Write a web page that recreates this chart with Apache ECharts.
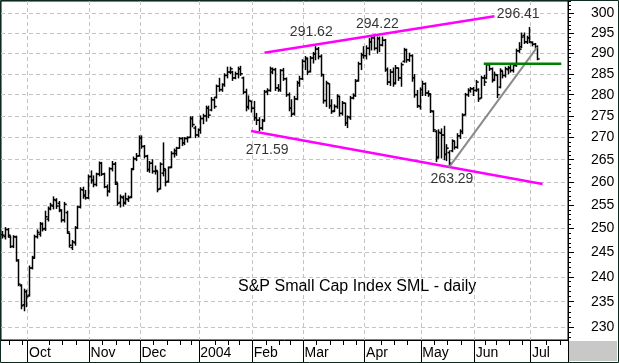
<!DOCTYPE html>
<html><head><meta charset="utf-8">
<script src="https://cdn.jsdelivr.net/npm/echarts@6/dist/echarts.min.js"></script>
<style>html,body{margin:0;padding:0;background:#fff}#c{width:619px;height:363px}</style>
</head><body><div id="c"></div>
<script>
// trading days per month (categories)
const monthDays = [
  ['2003-09', [17,18,19,22,23,24,25,26,29,30]],
  ['2003-10', [1,2,3,6,7,8,9,10,13,14,15,16,17,20,21,22,23,24,27,28,29,30,31]],
  ['2003-11', [3,4,5,6,7,10,11,12,13,14,17,18,19,20,21,24,25,26,28]],
  ['2003-12', [1,2,3,4,5,8,9,10,11,12,15,16,17,18,19,22,23,24,26,29,30,31]],
  ['2004-01', [2,5,6,7,8,9,12,13,14,15,16,20,21,22,23,26,27,28,29,30]],
  ['2004-02', [2,3,4,5,6,9,10,11,12,13,17,18,19,20,23,24,25,26,27]],
  ['2004-03', [1,2,3,4,5,8,9,10,11,12,15,16,17,18,19,22,23,24,25,26,29,30,31]],
  ['2004-04', [1,2,5,6,7,8,12,13,14,15,16,19,20,21,22,23,26,27,28,29,30]],
  ['2004-05', [3,4,5,6,7,10,11,12,13,14,17,18,19,20,21,24,25,26,27,28]],
  ['2004-06', [1,2,3,4,7,8,9,10,14,15,16,17,18,21,22,23,24,25,28,29,30]],
  ['2004-07', [1,2,6,7,8,9,12,13,14,15,16,19,20,21]]
];
const dates = [];
monthDays.forEach(([ym, ds]) => ds.forEach(d => dates.push(ym + '-' + String(d).padStart(2, '0'))));

const open = [248.7,248.3,249.8,248.2,246.3,248.2,243.3,238.2,234.4,237.0,
236.3,241.8,244.0,248.3,248.8,251.0,250.0,252.0,254.2,254.8,256.0,255.4,253.8,251.8,253.4,249.0,246.0,247.0,250.2,254.6,258.3,257.2,256.6,
261.3,260.4,259.5,261.8,264.2,261.8,259.0,258.0,263.0,264.0,259.6,255.6,256.6,255.6,256.2,256.8,263.0,265.2,265.9,
269.9,268.0,265.8,262.8,264.2,262.4,262.4,258.6,262.0,262.6,260.2,263.4,266.4,266.4,267.6,269.8,268.8,269.8,270.1,274.4,272.2,270.6,
271.8,274.4,275.0,276.8,276.4,278.8,279.4,282.0,281.2,282.4,284.6,285.4,285.4,284.0,285.0,286.2,284.0,280.6,277.2,278.4,
276.8,274.6,274.0,272.2,274.0,280.8,281.0,285.4,286.0,281.6,281.2,285.8,283.8,280.0,276.8,275.6,279.0,282.8,283.8,
288.0,288.6,285.6,288.8,289.8,291.0,289.2,284.8,278.6,282.6,277.4,276.2,277.2,279.6,275.6,278.0,273.4,274.6,279.2,279.8,283.4,287.4,289.6,
289.4,291.2,292.8,293.8,291.2,293.6,292.0,293.2,286.0,283.0,285.4,282.8,286.4,284.0,288.0,290.8,288.4,289.4,284.0,280.0,277.2,
281.2,282.6,280.4,280.0,276.0,271.4,265.6,271.0,270.6,266.2,266.6,267.0,269.2,267.8,270.4,271.4,275.3,280.0,281.0,281.4,
281.0,281.2,279.2,284.0,284.0,287.2,286.2,283.6,284.6,281.8,285.6,284.6,286.0,286.4,285.8,287.0,290.6,291.6,294.4,292.8,293.8,
292.6,292.2,291.6];
const high = [249.4,250.2,250.0,248.4,248.5,248.4,243.5,238.4,237.5,237.3,
242.2,244.2,248.6,249.7,251.3,251.2,253.7,254.6,255.4,256.8,256.4,255.8,254.0,255.6,253.7,249.0,247.5,250.4,254.8,258.8,258.9,258.2,261.6,
262.5,261.4,262.0,264.5,264.4,262.0,259.4,263.2,264.6,264.4,259.8,257.2,257.0,257.6,257.0,263.0,265.6,266.4,270.4,
270.4,268.2,266.0,264.6,265.0,263.6,262.4,264.3,268.8,262.8,263.4,266.8,267.4,267.8,270.0,270.0,270.0,270.2,274.8,274.8,272.6,272.0,
275.0,275.4,277.3,277.3,279.3,279.3,282.3,283.9,282.6,285.0,286.6,286.6,285.6,285.4,286.6,286.8,284.2,281.3,279.7,278.5,
278.4,275.6,274.6,274.2,281.0,281.4,286.6,286.4,286.3,282.4,286.0,286.3,284.0,280.4,278.8,279.6,283.2,284.4,288.4,
289.2,288.8,289.2,290.2,291.6,291.4,289.6,284.8,283.2,282.6,278.8,277.6,280.0,279.6,278.4,278.0,275.0,279.6,280.2,283.6,287.8,290.0,291.6,
291.8,293.6,294.2,294.1,294.0,294.0,294.0,293.4,286.4,286.0,286.4,287.0,286.4,287.6,291.2,291.0,290.0,289.6,284.8,281.0,281.6,
283.2,282.8,280.9,280.2,276.2,271.6,271.8,272.0,272.6,268.4,267.0,269.5,269.2,270.9,271.8,275.5,280.3,281.4,281.7,281.7,
283.4,281.4,284.4,284.6,287.5,287.2,286.4,285.4,284.8,286.2,285.6,286.6,286.8,287.0,287.2,291.0,292.6,295.0,295.0,294.2,296.4,
292.8,292.4,291.8];
const low = [248.0,247.8,248.2,246.0,246.0,243.2,238.2,233.6,233.2,234.0,
236.1,241.6,243.8,248.0,248.4,249.5,249.6,251.6,254.0,254.2,254.3,253.6,251.4,251.4,249.0,246.1,245.6,246.5,250.0,254.4,256.5,256.3,256.4,
259.8,259.0,259.2,261.4,261.5,258.8,257.0,257.8,262.5,259.5,255.0,254.6,254.8,255.2,255.8,256.6,262.8,264.8,265.8,
267.6,265.4,262.4,262.2,262.0,261.8,257.9,258.5,261.4,259.2,260.0,263.2,265.6,266.0,267.6,268.2,268.4,269.0,270.0,272.5,270.0,270.2,
271.0,273.2,273.8,274.6,276.2,276.8,279.2,280.8,280.8,282.0,284.0,285.0,283.4,283.8,284.0,284.6,280.2,276.2,276.6,275.9,
274.0,273.0,271.6,271.8,273.8,280.0,280.8,285.0,281.0,280.8,280.8,283.4,279.6,276.2,274.9,275.2,278.8,282.0,283.6,
286.0,284.8,285.4,287.6,288.4,288.6,284.4,278.0,277.2,276.8,275.6,276.0,276.8,275.0,275.2,272.8,272.3,274.2,279.0,279.6,283.2,286.0,288.8,
288.6,289.6,290.8,290.8,290.0,290.4,291.8,285.6,282.4,282.2,282.0,282.6,283.4,282.0,287.8,287.8,288.0,283.2,279.4,277.0,276.6,
279.8,279.8,279.6,275.8,271.4,264.6,265.4,265.4,265.0,264.8,263.3,266.8,267.4,267.6,269.8,270.9,275.2,279.6,280.6,279.8,
280.8,278.4,279.2,282.2,283.8,285.8,283.0,283.4,279.3,281.6,284.0,284.2,285.0,285.4,285.4,286.8,290.2,291.4,292.4,292.4,292.6,
291.8,291.2,288.4];
const close = [248.6,249.8,248.6,246.2,248.3,243.4,238.5,234.2,237.0,236.0,
241.8,243.8,248.3,249.2,251.0,249.9,252.5,254.3,255.0,256.2,254.8,254.0,251.8,255.2,249.3,246.5,247.2,250.2,254.6,258.4,257.0,256.6,261.2,
260.4,259.5,261.8,264.2,261.8,259.0,258.0,263.0,264.0,260.0,255.4,256.8,255.4,256.4,256.6,262.8,265.2,265.8,269.8,
268.0,265.8,262.8,264.2,262.4,262.6,258.4,264.0,263.0,260.0,263.2,266.4,267.0,267.6,269.8,268.8,269.8,270.0,274.4,273.0,270.6,271.8,
274.4,275.0,276.8,275.2,278.8,277.2,282.0,281.2,282.4,284.6,285.4,286.2,284.0,285.0,286.2,285.0,280.6,277.0,278.6,276.8,
274.6,274.0,272.2,273.8,280.6,281.0,286.2,286.0,281.6,281.2,285.8,283.8,280.0,276.8,275.4,279.0,282.8,283.8,288.0,
288.8,285.4,288.8,289.8,291.0,289.2,284.8,278.6,282.8,277.4,276.0,277.2,279.6,275.6,278.0,273.4,274.8,279.2,279.8,283.2,287.4,289.6,289.4,
291.2,292.8,293.8,291.2,293.6,292.0,293.2,286.0,283.0,285.4,282.6,286.4,284.0,287.2,290.8,288.4,289.4,284.0,280.0,277.4,281.2,
282.6,280.4,280.2,276.2,271.8,265.4,271.2,270.6,266.2,267.6,264.2,269.2,267.8,270.4,271.4,275.2,280.0,281.0,281.4,281.0,
283.0,279.0,284.0,283.0,287.2,286.2,283.4,284.8,280.0,285.8,284.6,286.2,286.4,285.8,287.0,290.6,291.0,294.0,292.8,293.8,292.8,
292.2,291.6,288.6];

const yTickValues = [230,235,240,245,250,255,260,265,270,275,280,285,290,295,300];
const yMinorTickValues = [228,229,230,231,232,233,234,235,236,237,238,239,240,241,242,243,244,245,246,247,248,249,250,
251,252,253,254,255,256,257,258,259,260,261,262,263,264,265,266,267,268,269,270,271,272,273,274,275,276,277,278,279,280,
281,282,283,284,285,286,287,288,289,290,291,292,293,294,295,296,297,298,299,300,301,302,303];
const monthNames = {'01':'2004','02':'Feb','03':'Mar','04':'Apr','05':'May','06':'Jun','07':'Jul','09':'Sep','10':'Oct','11':'Nov','12':'Dec'};

// trend lines: [category index, value]
const upperTrend = [[98, 290.1], [184, 299.2]];
const lowerTrend = [[93, 271.5], [202, 259.6]];
const riseTrend = [[167, 263.3], [200, 291.5]];
const breakLevel = [[180, 287.4], [209, 287.4]];
// annotated extremes: [category index, value]
const extremes = [[117, 291.62], [138, 294.22], [197, 296.41], [96, 271.59], [167, 263.29]];
const extremeOffsets = [[-4, -14], [6, -12], [-11, -13], [8, 19], [3, 12]];

const FONT = "Arial, 'Liberation Sans', sans-serif";
const ym = i => dates[i].slice(0, 7);
const isMonthStart = i => i > 0 && ym(i) !== ym(i - 1);
const dow = s => new Date(s + 'T00:00:00Z').getUTCDay();
const isWeekStart = i => i > 0 && dow(dates[i]) < dow(dates[i - 1]);
function lastMonthStart(i) { for (let j = i; j > 0; j--) if (isMonthStart(j)) return j; return -100; }
const weeklyTick = i => isMonthStart(i) || (isWeekStart(i) && i - lastMonthStart(i) >= 4);

const ohlc = open.map((o, i) => [i, o, high[i], low[i], close[i]]);

function renderItem(params, api) {
  const i = api.value(0);
  const pO = api.coord([i, api.value(1)]);
  const pH = api.coord([i, api.value(2)]);
  const pL = api.coord([i, api.value(3)]);
  const pC = api.coord([i, api.value(4)]);
  const x = Math.round(pH[0]) + 0.5;
  const st = {stroke: '#000', lineWidth: 1.5};
  return {type: 'group', children: [
    {type: 'line', shape: {x1: x, y1: pH[1] - 0.5, x2: x, y2: pL[1] + 0.5}, style: st},
    {type: 'line', shape: {x1: x - 2, y1: pO[1], x2: x, y2: pO[1]}, style: st},
    {type: 'line', shape: {x1: x, y1: pC[1], x2: x + 2.2, y2: pC[1]}, style: st}
  ]};
}

const trend = (data, color, width) => ({
  type: 'line', data, symbol: 'none', silent: true, z: 5, animation: false,
  lineStyle: {color, width}
});

const chart = echarts.init(document.getElementById('c'), null, {renderer: 'canvas'});
chart.setOption({
  animation: false,
  backgroundColor: '#fff',
  title: {text: 'S&P Small Cap Index SML - daily', left: 238, top: 279, padding: 0,
    textStyle: {fontSize: 16, fontWeight: 'normal', color: '#000', fontFamily: FONT}},
  grid: {left: 1, right: 51, top: 1, bottom: 23, show: true, borderColor: '#000', borderWidth: 1},
  xAxis: [{
    type: 'category', data: dates, boundaryGap: true,
    axisLine: {show: true, lineStyle: {color: '#000'}},
    axisTick: {show: true, length: 5, interval: weeklyTick, lineStyle: {color: '#000'}},
    axisLabel: {interval: isMonthStart, formatter: v => monthNames[v.slice(5, 7)], align: 'left',
      margin: 6, fontSize: 14, color: '#000', fontFamily: FONT},
    splitLine: {show: true, interval: isMonthStart, lineStyle: {color: '#c4c4c4', type: [4, 3]}}
  }, {
    type: 'category', data: dates, boundaryGap: true, position: 'bottom',
    axisLine: {show: false},
    axisTick: {show: true, length: 22, interval: isMonthStart, lineStyle: {color: '#000'}},
    axisLabel: {show: false}, splitLine: {show: false}
  }],
  yAxis: [{
    type: 'log', logBase: 10, min: 227.5, max: 303.1, position: 'right',
    axisLine: {show: true, lineStyle: {color: '#000'}},
    axisTick: {show: true, length: 6, customValues: yTickValues, lineStyle: {color: '#000'}},
    axisLabel: {customValues: yTickValues, margin: 23, fontSize: 14, color: '#000', fontFamily: FONT},
    splitLine: {show: true, lineStyle: {color: '#c4c4c4', type: [4, 3]}}
  }, {
    type: 'log', logBase: 10, min: 227.5, max: 303.1, position: 'right',
    axisLine: {show: false},
    axisTick: {show: true, length: 3, customValues: yMinorTickValues, lineStyle: {color: '#000'}},
    axisLabel: {show: false}, splitLine: {show: false}
  }],
  graphic: [
    {type: 'rect', shape: {x: 569, y: 341, width: 48, height: 20}, style: {fill: '#c8c8c8'}, z: 10},
    {type: 'rect', shape: {x: 0.5, y: 0.5, width: 618, height: 362}, style: {fill: null, stroke: '#0d2a1f', lineWidth: 1}, z: 10}
  ],
  series: [
    {type: 'custom', renderItem, data: ohlc, encode: {x: 0, y: [1, 2, 3, 4]}, z: 3, animation: false},
    trend(upperTrend, '#ff00ff', 2.5),
    trend(lowerTrend, '#ff00ff', 2.5),
    trend(riseTrend, '#8a8a8a', 2),
    trend(breakLevel, '#008000', 2.5),
    {type: 'scatter', symbolSize: 0, z: 6, silent: true,
      data: extremes.map((d, k) => ({value: d, label: {offset: extremeOffsets[k]}})),
      label: {show: true, position: 'inside', formatter: p => p.value[1].toFixed(2),
        fontSize: 14, color: '#000', fontFamily: FONT}}
  ]
});
</script></body></html>
